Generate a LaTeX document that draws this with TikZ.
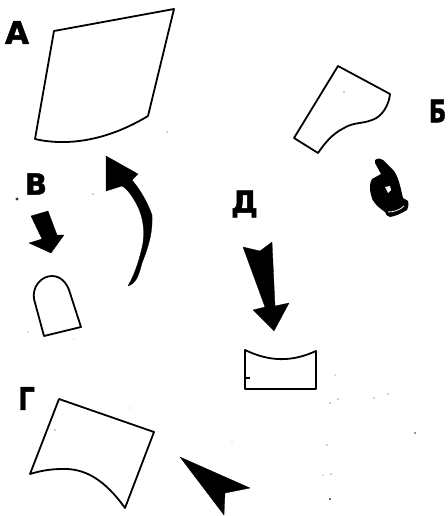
\documentclass[tikz,border=0pt]{standalone}
\usepackage{fontspec}
\newfontfamily\lblfont[FakeBold=1.6]{DejaVu Sans Bold}
\tikzset{
  outline/.style={draw=black,line width=1.8pt,line join=round,fill=white},
  solid shape/.style={fill=black,draw=black,line width=0.3pt,line join=round},
  letter/.style={font=\lblfont\fontsize{31}{31}\selectfont,inner sep=0pt,text=black},
  speck/.style={fill=black!80,draw=none}
}
\begin{document}
\begin{tikzpicture}[x=1pt,y=-1pt]
\useasboundingbox (0,0) rectangle (447,516);
\clip (0,0) rectangle (447,516);
% Labels
\node[letter] (la) at (17,32.5) {А};
\node[letter,anchor=east,xscale=0.74] (lb) at (446.5,111) {Б};
\node[letter,font=\lblfont\fontsize{29}{29}\selectfont] (lv) at (36,184) {В};
\node[letter,anchor=center,font=\lblfont\fontsize{30}{30}\selectfont] (ld) at (244.5,204) {Д};
\node[letter,xscale=0.85,font=\lblfont\fontsize{31}{31}\selectfont] (lg) at (26.5,398.5) {Г};
% Shape A
\draw[outline] (54,31) -- (174,9) -- (148,116) .. controls (105,142) and (65,146) .. (35,139) -- cycle;
% Shape B
\draw[outline] (338,66) -- (390,94) .. controls (389,105) and (382,117) .. (372,120) .. controls (362,124) and (354,122) .. (344,128) .. controls (332,134) and (325,143) .. (318,153) -- (294,138) -- cycle;
% Hand
\fill[black,line join=round] (375,160) .. controls (378,158) and (381,158) .. (383,160) -- (394,171) .. controls (399,178) and (401,190) .. (403,198) -- (408,201) .. controls (409,205) and (408,208) .. (407,210) .. controls (400,214) and (396,216) .. (390,217) .. controls (387,217) and (386,214) .. (385,212) .. controls (378,207) and (372,202) .. (371,195) .. controls (369,188) and (370,182) .. (372,179) -- (381,174) -- (375,163) -- cycle;
\fill[white] (385,187) -- (390,186) -- (391,190) -- (388,193) -- cycle;
\draw[white,line width=0.8pt] (388,212) .. controls (394,212) and (400,210) .. (404,206);
% Shape V with arrow
\fill[solid shape] (31,216) -- (48,211) -- (57,235) -- (64,235) -- (51,253) -- (29,243) -- (42,239) -- cycle;
\draw[outline] (44,336) -- (81,327) -- (70,293) .. controls (67,282) and (60,276) .. (52,276) .. controls (41,276) and (32,287) .. (34,299) -- cycle;
% Curved arrow
\fill[solid shape] (106,156) -- (138,174) -- (132,180) .. controls (142,192) and (148,204) .. (152,215) .. controls (153,235) and (147,250) .. (142,263) .. controls (139,274) and (137,283) .. (128,286) .. controls (135,274) and (140,258) .. (143,243) .. controls (145,225) and (142,212) .. (133,198) .. controls (128,190) and (124,187) .. (122,186) -- (106,191) -- cycle;
% Arrow D
\fill[solid shape] (243,247) -- (260,251) -- (272,242) -- (275,306) -- (289,303) -- (274,331) -- (253,310) -- (265,307) -- cycle;
% Shape D
\draw[outline] (245,350) .. controls (270,362) and (292,362) .. (316,351) -- (316,389) -- (245,389) -- cycle;
\draw[black,line width=1.4pt] (245,378) -- (250,378);
% Shape G
\draw[outline] (59,399) -- (154,432) -- (125,508) .. controls (105,480) and (85,468) .. (62,469) .. controls (50,469) and (40,471) .. (30,474) -- cycle;
% Arrow G
\fill[solid shape] (180,457) -- (250,488) -- (225,493) -- (224,515) -- cycle;
% Specks
\foreach \p/\r in {{(17,199)}/1.6,{(93,194)}/0.7,{(97,21)}/0.5,{(167,132)}/0.6,{(344,92)}/0.7,{(28,332)}/0.5,{(74,339)}/0.4,{(55,430)}/0.7,{(130,408)}/0.4,{(232,442)}/0.4,{(335,375)}/0.5,{(388,394)}/0.7,{(374,398)}/0.6,{(338,399)}/0.6,{(330,403)}/0.6,{(415,433)}/0.8,{(327,445)}/0.7,{(331,474)}/0.7,{(323,475)}/0.5,{(330,499)}/1.2}
  \fill[speck] \p circle (\r);
\end{tikzpicture}
\end{document}
